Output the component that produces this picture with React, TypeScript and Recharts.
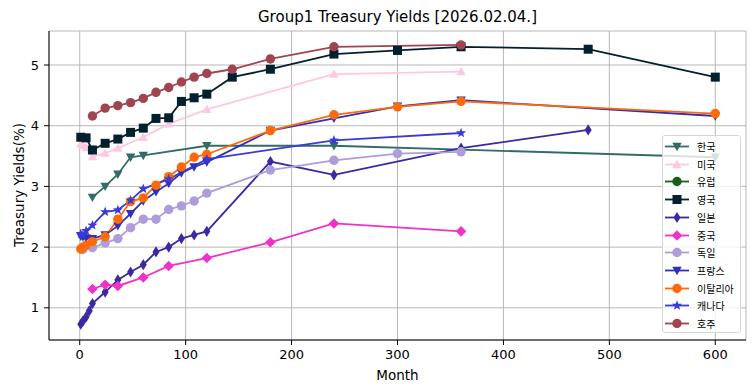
import { LineChart, Line, XAxis, YAxis, CartesianGrid } from 'recharts';

// --- data (months to maturity, yield %) ---

const X_TICKS = [0, 100, 200, 300, 400, 500, 600];
const Y_TICKS = [1, 2, 3, 4, 5];

const KR_MONTHS = [12, 24, 36, 48, 60, 120, 240, 600];
const KR_YIELDS = [2.82, 3.0, 3.2, 3.48, 3.51, 3.67, 3.67, 3.48];

const US_MONTHS = [1, 3, 6, 12, 24, 36, 60, 84, 120, 240, 360];
const US_YIELDS = [3.7, 3.68, 3.64, 3.49, 3.55, 3.63, 3.81, 4.03, 4.27, 4.85, 4.89];

const EU_MONTHS: number[] = [];
const EU_YIELDS: number[] = [];

const UK_MONTHS = [1, 6, 12, 24, 36, 48, 60, 72, 84, 96, 108, 120, 144, 180, 240, 300, 360, 480, 600];
const UK_YIELDS = [3.81, 3.8, 3.6, 3.71, 3.78, 3.89, 3.96, 4.12, 4.13, 4.4, 4.46, 4.52, 4.8, 4.93, 5.18, 5.24, 5.3, 5.26, 4.8];

const JP_MONTHS = [1, 3, 6, 9, 12, 24, 36, 48, 60, 72, 84, 96, 108, 120, 180, 240, 360, 480];
const JP_YIELDS = [0.73, 0.78, 0.85, 0.95, 1.07, 1.26, 1.46, 1.59, 1.71, 1.92, 2.0, 2.14, 2.2, 2.26, 3.41, 3.19, 3.63, 3.93];

const CN_MONTHS = [12, 24, 36, 60, 84, 120, 180, 240, 360];
const CN_YIELDS = [1.31, 1.38, 1.36, 1.5, 1.69, 1.82, 2.08, 2.39, 2.26];

const DE_MONTHS = [3, 12, 24, 36, 48, 60, 72, 84, 96, 108, 120, 180, 240, 300, 360];
const DE_YIELDS = [1.96, 1.99, 2.07, 2.14, 2.32, 2.46, 2.46, 2.62, 2.68, 2.76, 2.89, 3.27, 3.43, 3.54, 3.57];

const FR_MONTHS = [1, 3, 6, 12, 24, 36, 48, 60, 72, 84, 96, 108, 120, 180, 240, 300, 360, 600];
const FR_YIELDS = [2.18, 2.17, 2.15, 2.14, 2.2, 2.35, 2.55, 2.76, 2.91, 3.05, 3.22, 3.32, 3.4, 3.92, 4.12, 4.32, 4.42, 4.16];

const IT_MONTHS = [1, 3, 6, 12, 24, 36, 48, 60, 72, 84, 96, 108, 120, 180, 240, 300, 360, 600];
const IT_YIELDS = [1.97, 2.0, 2.03, 2.09, 2.17, 2.46, 2.75, 2.81, 3.02, 3.16, 3.32, 3.48, 3.53, 3.92, 4.18, 4.31, 4.4, 4.2];

const CA_MONTHS = [1, 3, 6, 12, 24, 36, 48, 60, 84, 120, 240, 360];
const CA_YIELDS = [2.22, 2.2, 2.27, 2.36, 2.58, 2.61, 2.77, 2.96, 3.12, 3.45, 3.76, 3.88];

const AU_MONTHS = [12, 24, 36, 48, 60, 72, 84, 96, 108, 120, 144, 180, 240, 360];
const AU_YIELDS = [4.16, 4.29, 4.33, 4.38, 4.45, 4.55, 4.63, 4.72, 4.8, 4.86, 4.93, 5.1, 5.3, 5.33];

type Shape = 'v' | '^' | 'o' | 's' | 'd' | 'D' | '*';

const SERIES: Array<{ name: string; color: string; marker: Shape; months: number[]; yields: number[] }> = [
  { name: '한국', color: '#336b66', marker: 'v', months: KR_MONTHS, yields: KR_YIELDS },
  { name: '미국', color: '#ffc8e1', marker: '^', months: US_MONTHS, yields: US_YIELDS },
  { name: '유럽', color: '#1b5e1b', marker: 'o', months: EU_MONTHS, yields: EU_YIELDS },
  { name: '영국', color: '#03202e', marker: 's', months: UK_MONTHS, yields: UK_YIELDS },
  { name: '일본', color: '#3a2aa0', marker: 'd', months: JP_MONTHS, yields: JP_YIELDS },
  { name: '중국', color: '#f032c8', marker: 'D', months: CN_MONTHS, yields: CN_YIELDS },
  { name: '독일', color: '#ae9cdb', marker: 'o', months: DE_MONTHS, yields: DE_YIELDS },
  { name: '프랑스', color: '#2e2ebf', marker: 'v', months: FR_MONTHS, yields: FR_YIELDS },
  { name: '이탈리아', color: '#ff6a08', marker: 'o', months: IT_MONTHS, yields: IT_YIELDS },
  { name: '캐나다', color: '#3a3ad6', marker: '*', months: CA_MONTHS, yields: CA_YIELDS },
  { name: '호주', color: '#a0444f', marker: 'o', months: AU_MONTHS, yields: AU_YIELDS },
];

function Marker({ shape, cx, cy, color }: { shape: Shape; cx: number; cy: number; color: string }) {
  if (cx == null || cy == null) return null;
  const p = (pts: number[][]) => pts.map(([x, y]) => `${cx + x},${cy + y}`).join(' ');
  switch (shape) {
    case 'v':
      return <polygon points={p([[-4.7, -3.7], [4.7, -3.7], [0, 4.7]])} fill={color} />;
    case '^':
      return <polygon points={p([[-4.7, 3.7], [4.7, 3.7], [0, -4.7]])} fill={color} />;
    case 's':
      return <rect x={cx - 4.5} y={cy - 4.5} width={9} height={9} fill={color} />;
    case 'd':
      return <polygon points={p([[0, -5.6], [3.5, 0], [0, 5.6], [-3.5, 0]])} fill={color} />;
    case 'D':
      return <polygon points={p([[0, -5.3], [5.3, 0], [0, 5.3], [-5.3, 0]])} fill={color} />;
    case '*': {
      const pts: number[][] = [];
      for (let i = 0; i < 10; i++) {
        const r = i % 2 === 0 ? 5.3 : 2.2;
        const a = (Math.PI / 5) * i - Math.PI / 2;
        pts.push([r * Math.cos(a), r * Math.sin(a)]);
      }
      return <polygon points={p(pts)} fill={color} />;
    }
    default:
      return <circle cx={cx} cy={cy} r={4.7} fill={color} />;
  }
}

const FONT = 'DejaVu Sans, sans-serif';

function LegendBox() {
  return (
    <div
      style={{
        position: 'absolute', left: 662, top: 135, width: 77, height: 196,
        background: 'rgba(255,255,255,0.8)', border: '1px solid #d6d6d6', borderRadius: 3,
      }}
    >
      {SERIES.map((s, i) => (
        <div key={s.name} style={{ position: 'absolute', left: 0, top: 2 + i * 17.7, height: 17, width: 77 }}>
          <svg width={30} height={17} style={{ position: 'absolute', left: 0, top: 0 }}>
            <line x1={2} x2={26} y1={8.5} y2={8.5} stroke={s.color} strokeWidth={1.8} />
            <Marker shape={s.marker} cx={14} cy={8.5} color={s.color} />
          </svg>
          <span
            style={{
              position: 'absolute', left: 34, top: 0, lineHeight: '17px',
              fontSize: 10, fontFamily: 'Noto Sans CJK KR, sans-serif', color: '#000', whiteSpace: 'nowrap',
            }}
          >
            {s.name}
          </span>
        </div>
      ))}
    </div>
  );
}

export default function App() {
  return (
    <div style={{ position: 'absolute', left: 0, top: 0, width: 755, height: 391, background: '#fff' }}>
      <div
        style={{
          position: 'absolute', left: 49, top: 7, width: 697, textAlign: 'center',
          fontSize: 15, fontFamily: FONT, color: '#000', lineHeight: '20px',
        }}
      >
        Group1 Treasury Yields [2026.02.04.]
      </div>
      <LineChart width={755} height={391} margin={{ top: 31, right: 9, bottom: 0, left: 0 }}>
        <CartesianGrid stroke="#b0b0b0" strokeWidth={0.9} />
        <XAxis
          type="number" dataKey="x" domain={[-29, 629]} ticks={X_TICKS} allowDataOverflow
          height={51} tickSize={5} tickMargin={5}
          axisLine={{ stroke: '#000' }} tickLine={{ stroke: '#000' }}
          tick={{ fontSize: 13, fill: '#000', fontFamily: FONT }}
        />
        <XAxis xAxisId="top" orientation="top" type="number" domain={[-29, 629]} allowDataOverflow
          height={0} tick={false} tickLine={false} axisLine={{ stroke: '#000' }} />
        <YAxis
          type="number" domain={[0.47, 5.56]} ticks={Y_TICKS} allowDataOverflow
          width={49} tickSize={5} tickMargin={5}
          axisLine={{ stroke: '#000' }} tickLine={{ stroke: '#000' }}
          tick={{ fontSize: 13, fill: '#000', fontFamily: FONT }}
        />
        <YAxis yAxisId="right" orientation="right" domain={[0.47, 5.56]} allowDataOverflow
          width={0} tick={false} tickLine={false} axisLine={{ stroke: '#000' }} />
        {SERIES.map((s) => (
          <Line
            key={s.name}
            data={s.months.map((m, i) => ({ x: m, y: s.yields[i] }))}
            dataKey="y"
            name={s.name}
            stroke={s.color}
            strokeWidth={1.8}
            isAnimationActive={false}
            activeDot={false}
            dot={(props: any) => (
              <Marker key={`${s.name}-${props.index}`} shape={s.marker} cx={props.cx} cy={props.cy} color={s.color} />
            )}
          />
        ))}
      </LineChart>
      <div
        style={{
          position: 'absolute', left: 49, top: 366, width: 697, textAlign: 'center',
          fontSize: 13.5, fontFamily: FONT, color: '#000', lineHeight: '18px',
        }}
      >
        Month
      </div>
      <div
        style={{
          position: 'absolute', left: 19, top: 185, width: 0, height: 0,
        }}
      >
        <div
          style={{
            position: 'absolute', left: 0, top: 0, transform: 'translate(-50%, -50%) rotate(-90deg)',
            fontSize: 13.5, fontFamily: FONT, color: '#000', whiteSpace: 'nowrap', lineHeight: '18px',
          }}
        >
          Treasury Yields(%)
        </div>
      </div>
      <LegendBox />
    </div>
  );
}
